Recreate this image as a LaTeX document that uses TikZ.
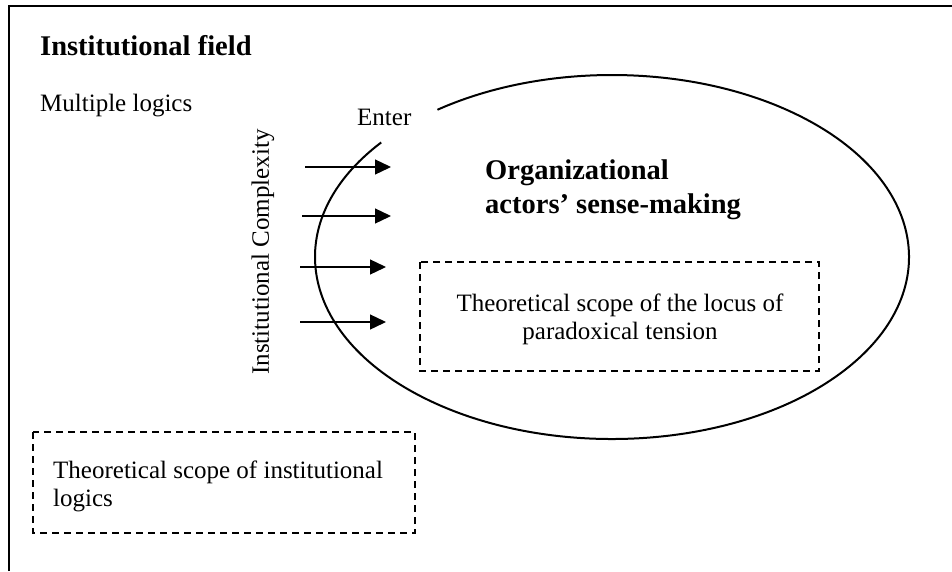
\documentclass[tikz,border=0pt]{standalone}
\usepackage{fontspec}
\setmainfont{Liberation Serif}
\usetikzlibrary{arrows.meta}
\tikzset{
  body/.style={inner sep=0pt,font=\fontsize{25}{28}\selectfont},
  boldtxt/.style={inner sep=0pt,font=\fontsize{28.5}{34}\selectfont\bfseries},
  scopebox/.style={draw,dashed,dash pattern=on 7pt off 5pt,line width=1.6pt},
  arr/.style={line width=1.3pt,-{Triangle[length=16pt,width=15pt]}},
  frame/.style={line width=2.5pt},
}
\begin{document}
\begin{tikzpicture}[x=1pt,y=-1pt]
\useasboundingbox (0,0) rectangle (952,571);
% frame (top and left edges visible)
\coordinate (fbl) at (9,571);
\coordinate (ftl) at (9,6);
\coordinate (ftr) at (952,6);
\draw[frame] (fbl) -- (ftl) -- (ftr);
% texts
\node[boldtxt,anchor=base west] (title) at (40,55) {Institutional field};
\node[body,anchor=base west] (multi) at (40,111) {Multiple logics};
\node[body,anchor=base west] (enter) at (357,125) {Enter};
\node[body,rotate=90] (complex) at (263,252) {Institutional Complexity};
% ellipse (open near "Enter")
\coordinate (ec) at (612,257);
\draw[line width=2pt] (ec) ++(141:297pt and 182pt)
  arc[start angle=141,end angle=486,x radius=297pt,y radius=182pt];
\node[boldtxt,anchor=west,align=left] (org) at (485,190) {Organizational\\actors' sense-making};
% inner dashed box
\draw[scopebox] (420,262) rectangle (819,371);
\node[body,align=center] (locus) at (620,319) {Theoretical scope of the locus of\\paradoxical tension};
% lower dashed box
\draw[scopebox] (33,432) rectangle (415,533);
\node[body,anchor=west,align=left] (inst) at (53,486) {Theoretical scope of institutional\\logics};
% arrows
\coordinate (a1s) at (305,167); \coordinate (a1e) at (391,167);
\coordinate (a2s) at (302,216); \coordinate (a2e) at (391,216);
\coordinate (a3s) at (300,267); \coordinate (a3e) at (386,267);
\coordinate (a4s) at (300,322); \coordinate (a4e) at (386,322);
\draw[arr] (a1s) -- (a1e);
\draw[arr] (a2s) -- (a2e);
\draw[arr] (a3s) -- (a3e);
\draw[arr] (a4s) -- (a4e);
\end{tikzpicture}
\end{document}
